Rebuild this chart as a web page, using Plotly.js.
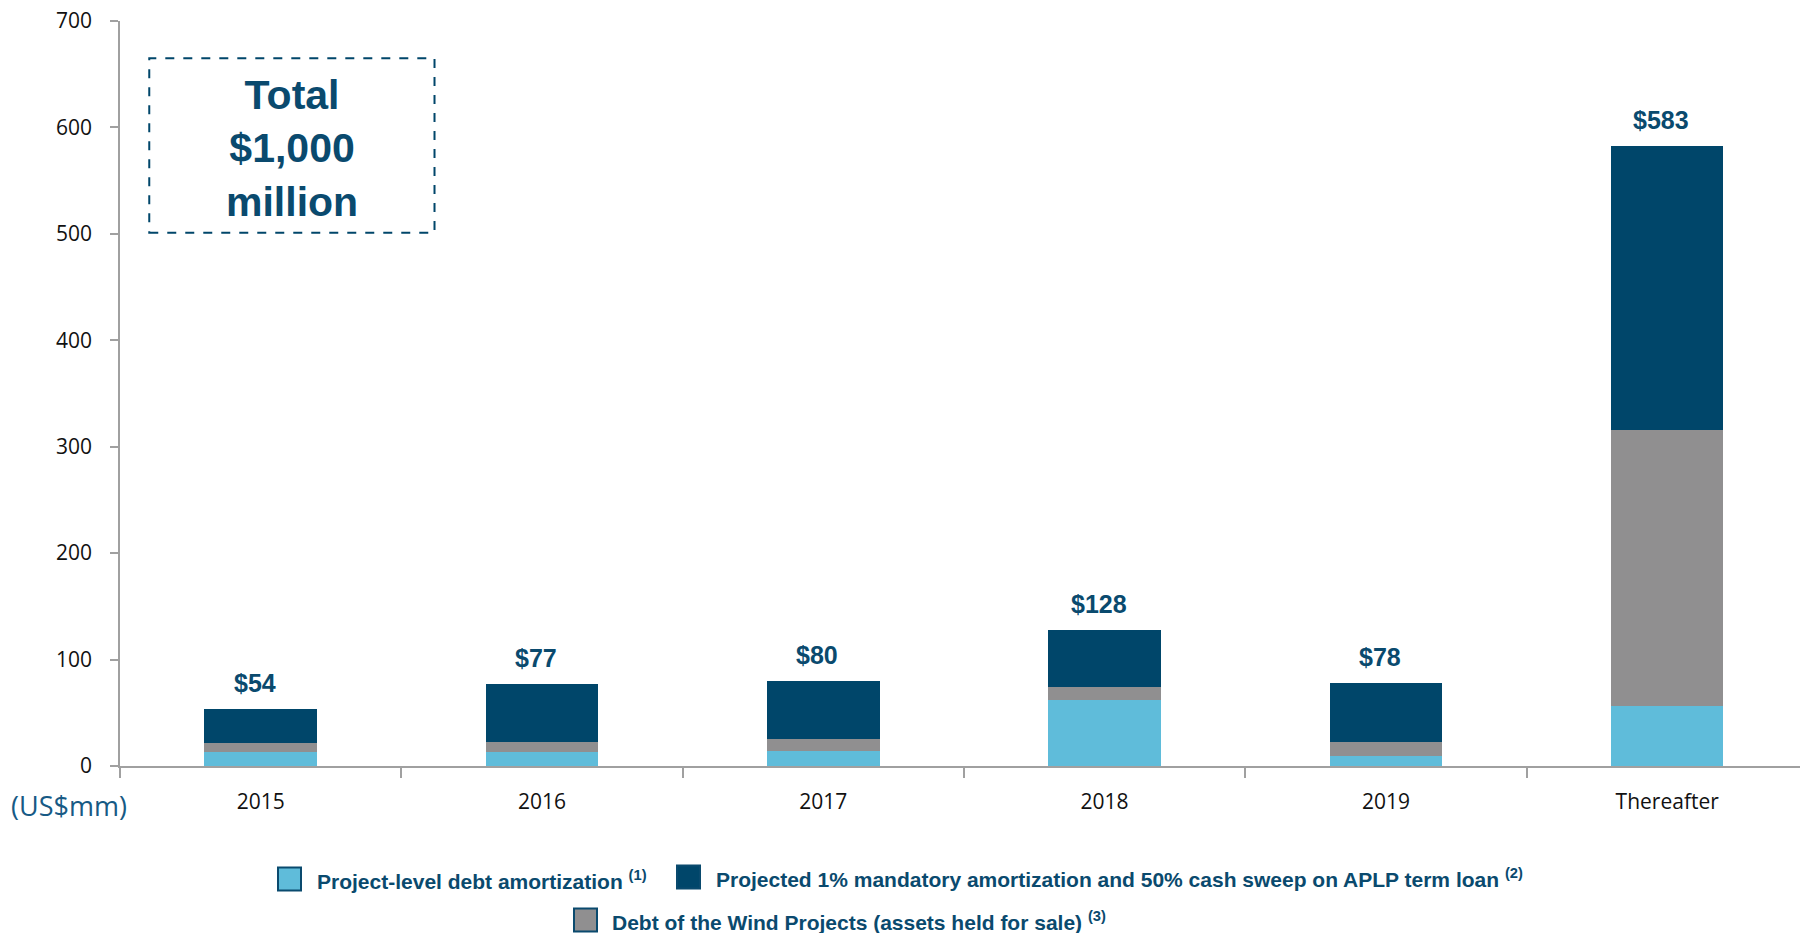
<!DOCTYPE html>
<html>
<head>
<meta charset="utf-8">
<script src="https://cdn.plot.ly/plotly-3.0.1.min.js"></script>
<style>html,body{margin:0;padding:0;background:#fff;}#chart{width:1800px;height:933px;}</style>
</head>
<body>
<div id="chart"></div>
<script>
const categories = ["2015", "2016", "2017", "2018", "2019", "Thereafter"];
const projectLevel = [13, 13, 14, 62, 9, 56];
const windProjects = [9, 10, 11, 12, 14, 260];
const aplpTermLoan = [32, 54, 55, 54, 55, 267];
const totals = [54, 77, 80, 128, 78, 583];
const totalLabels = ["$54", "$77", "$80", "$128", "$78", "$583"];
const seriesNames = [
  "Project-level debt amortization",
  "Projected 1% mandatory amortization and 50% cash sweep on APLP term loan",
  "Debt of the Wind Projects (assets held for sale)"
];
const footnotes = ["(1)", "(2)", "(3)"];
const yTicks = [0, 100, 200, 300, 400, 500, 600, 700];

const cLight = "#5FBCDA", cDark = "#00466A", cGray = "#908F90", cText = "#0A4A6E";
const W = 1800, H = 933, ML = 120, MR = 0, MT = 21, MB = 167;
const PW = W - ML - MR, PH = H - MT - MB;
const px = v => (v - ML) / PW;          // pixel x -> paper x
const py = v => (H - MB - v) / PH;      // pixel y -> paper y

const traces = [
  {type: "bar", x: categories, y: projectLevel, name: seriesNames[0], marker: {color: cLight}, width: 0.4, showlegend: false, hoverinfo: "y"},
  {type: "bar", x: categories, y: windProjects, name: seriesNames[2], marker: {color: cGray}, width: 0.4, showlegend: false, hoverinfo: "y"},
  {type: "bar", x: categories, y: aplpTermLoan, name: seriesNames[1], marker: {color: cDark}, width: 0.4, showlegend: false, hoverinfo: "y"}
];

const boldFont = {family: "Liberation Sans, Arial, sans-serif", color: cText};

const annotations = categories.map((c, i) => ({
  x: i, y: totals[i], xref: "x", yref: "y", text: "<b>" + totalLabels[i] + "</b>",
  showarrow: false, yanchor: "bottom", yshift: 10, xshift: -6,
  font: Object.assign({size: 25}, boldFont)
}));
annotations.push({
  x: 0.11, y: 580, xref: "x", yref: "y", text: "<b>Total<br>$1,000<br>million</b>",
  showarrow: false, xanchor: "center", yanchor: "middle", align: "center",
  font: Object.assign({size: 41}, boldFont)
});
annotations.push({
  x: px(9), y: py(806), xref: "paper", yref: "paper", text: "(US$mm)",
  showarrow: false, xanchor: "left", yanchor: "middle",
  font: {family: "Open Sans, sans-serif", size: 27, color: "#175A85"}
});

// legend (drawn as swatches + labels)
const legendItems = [
  {color: cLight, sx: 278, sy: 879, tx: 315, idx: 0},
  {color: cDark, sx: 677, sy: 877, tx: 714, idx: 1},
  {color: cGray, sx: 574, sy: 920, tx: 610, idx: 2}
];
const shapes = [{
  type: "rect", xref: "x", yref: "y", x0: -0.396, x1: 0.618, y0: 501, y1: 665,
  line: {color: cDark, width: 2, dash: "dash"}, fillcolor: "rgba(0,0,0,0)"
}];
legendItems.forEach(it => {
  shapes.push({
    type: "rect", xref: "paper", yref: "paper",
    x0: px(it.sx), x1: px(it.sx + 23), y0: py(it.sy + 11.5), y1: py(it.sy - 11.5),
    fillcolor: it.color, line: {color: cText, width: 2}
  });
  annotations.push({
    x: px(it.tx), y: py(it.sy + 1), xref: "paper", yref: "paper",
    text: "<b>" + seriesNames[it.idx] + " <sup>" + footnotes[it.idx] + "</sup></b>",
    showarrow: false, xanchor: "left", yanchor: "middle",
    font: Object.assign({size: 21}, boldFont)
  });
});

const layout = {
  width: W, height: H,
  margin: {l: ML, r: MR, t: MT, b: MB},
  paper_bgcolor: "#fff", plot_bgcolor: "#fff",
  barmode: "stack",
  showlegend: false,
  font: {family: "Open Sans, sans-serif", size: 21, color: "#111"},
  xaxis: {
    type: "category", range: [-0.5, 5.472], showgrid: false, zeroline: false,
    showline: true, linecolor: "#A0A0A0", linewidth: 1.5,
    ticks: "outside", tickson: "boundaries", ticklen: 10, tickcolor: "#A0A0A0", tickwidth: 1.5,
    ticklabelstandoff: 16,
    tickfont: {family: "Open Sans, sans-serif", size: 21, color: "#111"}
  },
  yaxis: {
    range: [0, 700], tickvals: yTicks, showgrid: false, zeroline: false,
    showline: true, linecolor: "#A0A0A0", linewidth: 1.5,
    ticks: "outside", ticklen: 8, tickcolor: "#A0A0A0", tickwidth: 1.5,
    ticklabelstandoff: 14,
    tickfont: {family: "Open Sans, sans-serif", size: 21, color: "#111"}
  },
  shapes: shapes,
  annotations: annotations
};

Plotly.newPlot("chart", traces, layout, {displayModeBar: false, responsive: false});
</script>
</body>
</html>
